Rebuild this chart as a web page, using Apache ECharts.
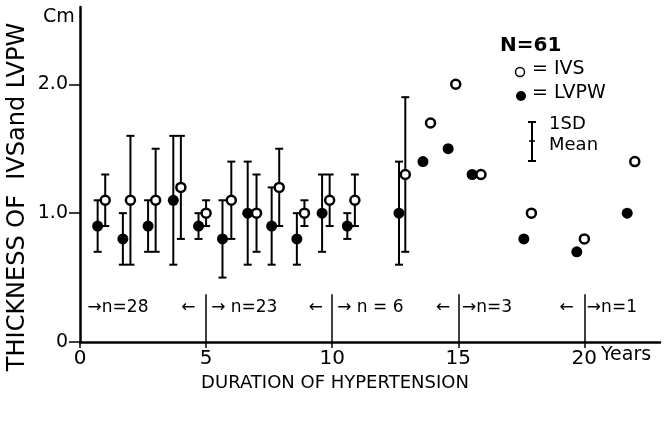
<!DOCTYPE html>
<html>
<head>
<meta charset="utf-8">
<script src="https://cdn.jsdelivr.net/npm/echarts@6/dist/echarts.min.js"></script>
<style>
  html, body { margin: 0; padding: 0; background: #fff; }
  #chart { width: 666px; height: 422px; }
</style>
</head>
<body>
<div id="chart"></div>
<script>
// IVS (open circles): x position (years), mean, -1SD, +1SD
const ivsX    = [1.0, 2.0, 3.0, 4.0, 5.0, 6.0, 7.0, 7.9, 8.9, 9.9, 10.9, 12.9, 13.9, 14.9, 15.9, 17.9, 20.0, 22.0];
const ivsMean = [1.1, 1.1, 1.1, 1.2, 1.0, 1.1, 1.0, 1.2, 1.0, 1.1, 1.1, 1.3, 1.7, 2.0, 1.3, 1.0, 0.8, 1.4];
const ivsLow  = [0.9, 0.6, 0.7, 0.8, 0.9, 0.8, 0.7, 0.9, 0.9, 0.9, 0.9, 0.7];
const ivsHigh = [1.3, 1.6, 1.5, 1.6, 1.1, 1.4, 1.3, 1.5, 1.1, 1.3, 1.3, 1.9];

// LVPW (filled circles)
const lvpwX    = [0.7, 1.7, 2.7, 3.7, 4.7, 5.65, 6.65, 7.6, 8.6, 9.6, 10.6, 12.65, 13.6, 14.6, 15.55, 17.6, 19.7, 21.7];
const lvpwMean = [0.9, 0.8, 0.9, 1.1, 0.9, 0.8, 1.0, 0.9, 0.8, 1.0, 0.9, 1.0, 1.4, 1.5, 1.3, 0.8, 0.7, 1.0];
const lvpwLow  = [0.7, 0.6, 0.7, 0.6, 0.8, 0.5, 0.6, 0.6, 0.6, 0.7, 0.8, 0.6];
const lvpwHigh = [1.1, 1.0, 1.1, 1.6, 1.0, 1.1, 1.4, 1.2, 1.0, 1.3, 1.0, 1.4];

// group dividers and sample size notes
const dividerX   = [5, 10, 15, 20];
const groupText  = ['→n=28', '→ n=23', '→ n = 6', '→n=3', '→n=1'];
const groupStart = [0.3, 5.2, 10.2, 15.15, 20.1];
const backArrowX = [4.3, 9.35, 14.4, 19.3];

const xTicks = [0, 5, 10, 15, 20];
const yTicks = [0, 1, 2];

const FONT = 'DejaVu Sans';

function pairs(xs, ys) {
  return xs.map((x, i) => [x, ys[i]]);
}
function bars(xs, lo, hi) {
  return lo.map((l, i) => [xs[i], l, hi[i]]);
}

function renderErrorBar(params, api) {
  const top = api.coord([api.value(0), api.value(2)]);
  const bot = api.coord([api.value(0), api.value(1)]);
  const cap = 4;
  const style = { stroke: '#000', lineWidth: 2 };
  return {
    type: 'group',
    children: [
      { type: 'line', shape: { x1: top[0], y1: top[1], x2: bot[0], y2: bot[1] }, style },
      { type: 'line', shape: { x1: top[0] - cap, y1: top[1], x2: top[0] + cap, y2: top[1] }, style },
      { type: 'line', shape: { x1: bot[0] - cap, y1: bot[1], x2: bot[0] + cap, y2: bot[1] }, style }
    ]
  };
}

const labelSeries = (name, data, position) => ({
  name,
  type: 'scatter',
  symbolSize: 0,
  silent: true,
  data,
  itemStyle: { opacity: 1 },
  label: {
    show: true,
    position,
    distance: 0,
    formatter: p => p.name,
    fontSize: 17,
    color: '#000',
    fontFamily: FONT
  }
});

const legendGraphics = [
  {
    id: 'yname', type: 'text', x: 18, y: 197, rotation: Math.PI / 2,
    style: { text: 'THICKNESS OF  IVSand LVPW', font: '24px ' + FONT, fill: '#000', align: 'center', verticalAlign: 'middle' }
  },
  {
    id: 'xname', type: 'text', x: 335, y: 383,
    style: { text: 'DURATION OF HYPERTENSION', font: '18px ' + FONT, fill: '#000', align: 'center', verticalAlign: 'middle' }
  },
  { id: 'cm', type: 'text', left: 43, top: 8, style: { text: 'Cm', font: '19px ' + FONT, fill: '#000' } },
  { id: 'years', type: 'text', left: 601, top: 346, style: { text: 'Years', font: '19px ' + FONT, fill: '#000' } },
  { id: 'n61', type: 'text', left: 500, top: 36, style: { text: 'N=61', font: 'bold 20px ' + FONT, fill: '#000' } },
  { id: 'lg1', type: 'circle', shape: { cx: 520, cy: 72, r: 4.5 }, style: { fill: '#fff', stroke: '#000', lineWidth: 1.5 } },
  { id: 'lg2', type: 'text', left: 532, top: 60, style: { text: '= IVS', font: '19px ' + FONT, fill: '#000' } },
  { id: 'lg3', type: 'circle', shape: { cx: 521, cy: 96, r: 5 }, style: { fill: '#000' } },
  { id: 'lg4', type: 'text', left: 532, top: 84, style: { text: '= LVPW', font: '19px ' + FONT, fill: '#000' } },
  { id: 'lg5', type: 'line', shape: { x1: 532, y1: 122, x2: 532, y2: 161 }, style: { stroke: '#000', lineWidth: 2 } },
  { id: 'lg6', type: 'line', shape: { x1: 528, y1: 122, x2: 536, y2: 122 }, style: { stroke: '#000', lineWidth: 2 } },
  { id: 'lg7', type: 'line', shape: { x1: 528, y1: 161, x2: 536, y2: 161 }, style: { stroke: '#000', lineWidth: 2 } },
  { id: 'lg8', type: 'line', shape: { x1: 529, y1: 141, x2: 535, y2: 141 }, style: { stroke: '#000', lineWidth: 1.5 } },
  { id: 'lg9', type: 'text', left: 549, top: 115, style: { text: '1SD', font: '18px ' + FONT, fill: '#000' } },
  { id: 'lg10', type: 'text', left: 549, top: 136, style: { text: 'Mean', font: '18px ' + FONT, fill: '#000' } }
];

const chart = echarts.init(document.getElementById('chart'));

chart.setOption({
  animation: false,
  backgroundColor: '#fff',
  textStyle: { fontFamily: FONT, color: '#000' },
  grid: { left: 80, right: 6, top: 7, bottom: 80 },
  xAxis: {
    type: 'value',
    min: 0,
    max: 23,
    axisLine: { lineStyle: { color: '#000', width: 2.5 } },
    axisTick: { show: true, customValues: xTicks, length: 6, lineStyle: { color: '#000', width: 1.5 } },
    axisLabel: { customValues: xTicks, fontSize: 20, color: '#000', margin: 7 },
    splitLine: { show: false }
  },
  yAxis: {
    type: 'value',
    min: 0,
    max: 2.6,
    axisLine: { lineStyle: { color: '#000', width: 2.5 } },
    axisTick: { show: true, customValues: yTicks, length: 11, lineStyle: { color: '#000', width: 1.5 } },
    axisLabel: {
      customValues: yTicks,
      fontSize: 19,
      color: '#000',
      margin: 12,
      formatter: v => (v === 0 ? '0' : v.toFixed(1))
    },
    splitLine: { show: false }
  },
  graphic: legendGraphics,
  series: [
    {
      name: 'IVS SD',
      type: 'custom',
      renderItem: renderErrorBar,
      data: bars(ivsX, ivsLow, ivsHigh),
      encode: { x: 0, y: [1, 2] },
      z: 2
    },
    {
      name: 'LVPW SD',
      type: 'custom',
      renderItem: renderErrorBar,
      data: bars(lvpwX, lvpwLow, lvpwHigh),
      encode: { x: 0, y: [1, 2] },
      z: 2
    },
    {
      name: 'IVS',
      type: 'scatter',
      data: pairs(ivsX, ivsMean),
      symbol: 'circle',
      symbolSize: 9,
      itemStyle: { color: '#fff', borderColor: '#000', borderWidth: 2.5, opacity: 1 },
      z: 4
    },
    {
      name: 'LVPW',
      type: 'scatter',
      data: pairs(lvpwX, lvpwMean),
      symbol: 'circle',
      symbolSize: 11,
      itemStyle: { color: '#000', opacity: 1 },
      z: 3,
      markLine: {
        silent: true,
        symbol: 'none',
        label: { show: false },
        lineStyle: { color: '#000', width: 1.5, type: 'solid' },
        data: dividerX.map(x => [{ coord: [x, 0] }, { coord: [x, 0.37] }])
      }
    },
    labelSeries('groups', groupStart.map((x, i) => ({ value: [x, 0.27], name: groupText[i] })), 'right'),
    labelSeries('back arrows', backArrowX.map(x => ({ value: [x, 0.27], name: '←' })), 'inside')
  ]
});
</script>
</body>
</html>
